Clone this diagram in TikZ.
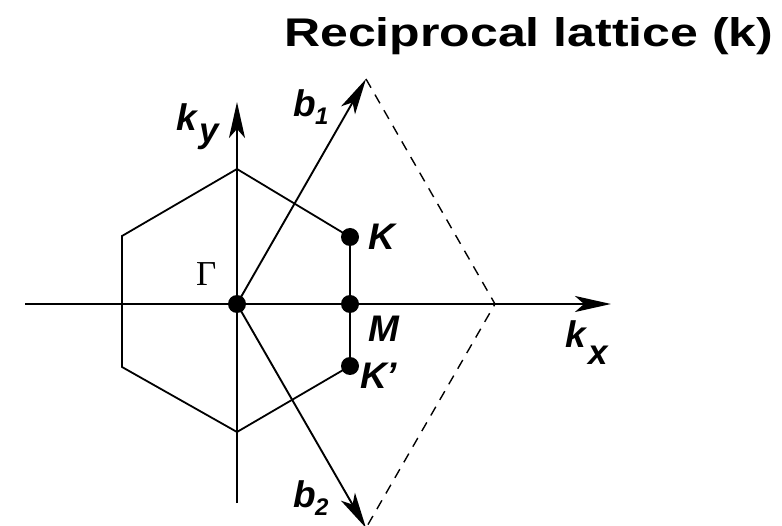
\documentclass[tikz,border=0pt]{standalone}
\usepackage{fontspec}
\setmainfont{Liberation Sans}
\newfontfamily\serifGamma{Liberation Serif}
\usetikzlibrary{arrows.meta}
\tikzset{
  bigarrow/.style={line width=2.3pt,-{Stealth[length=36pt,width=16pt,inset=9pt]}},
  vecarrow/.style={line width=1.9pt,-{Stealth[length=36pt,width=16pt,inset=9pt]}},
  hexline/.style={line width=1.8pt,line join=miter},
  dashline/.style={line width=1.4pt,dash pattern=on 10pt off 8pt},
  dot/.style={circle,fill=black,inner sep=0pt,minimum size=18pt},
  lab/.style={inner sep=0pt,anchor=base west,font=\fontsize{37}{40}\selectfont\bfseries\itshape},
  sublab/.style={inner sep=0pt,anchor=base west,font=\fontsize{35}{40}\selectfont\bfseries\itshape},
  subnum/.style={inner sep=0pt,anchor=base west,font=\fontsize{24}{28}\selectfont\bfseries\itshape},
}
\begin{document}
\begin{tikzpicture}[x=1pt,y=-1pt]
\useasboundingbox (0,0) rectangle (782,526);
% key points
\coordinate (G) at (237,304);
\coordinate (Mp) at (350,304);
\coordinate (Kp) at (350,237);
\coordinate (Kq) at (350,366);
\coordinate (T) at (237,169);
\coordinate (Bt) at (237,432);
\coordinate (UL) at (122,236);
\coordinate (LL) at (122,367);
\coordinate (B1) at (366,79);
\coordinate (B2) at (366,528);
\coordinate (V) at (495,304);
\coordinate (XL) at (25,304);
\coordinate (XR) at (611,304);
\coordinate (YT) at (237,102);
\coordinate (YB) at (237,503);
% hexagon
\draw[hexline] (T) -- (Kp) -- (Kq) -- (Bt) -- (LL) -- (UL) -- cycle;
% axes
\draw[bigarrow] (XL) -- (XR);
\draw[line width=1.9pt] (YB) -- (G);
\draw[bigarrow] (G) -- (YT);
% reciprocal vectors
\draw[vecarrow] (G) -- (B1);
\draw[vecarrow] (G) -- (B2);
% dashed
\draw[dashline] (B1) -- (V) -- (B2);
% dots
\node[dot] (g) at (G) {};
\node[dot] (m) at (Mp) {};
\node[dot] (k) at (Kp) {};
\node[dot] (kq) at (Kq) {};
% labels
\node[inner sep=0pt,anchor=base west,font=\fontsize{40}{44}\selectfont\bfseries] (title) at (284,47) {\scalebox{1.25}[1]{Reciprocal lattice (k)}};
\node[lab] (kyk) at (176,131) {k};
\node[sublab] (kyy) at (199,143) {y};
\node[lab] (b1b) at (293,117) {b};
\node[subnum] (b1n) at (315,125) {1};
\node[lab] (Kl) at (368,250) {K};
\node[inner sep=0pt,anchor=base west,font=\serifGamma\fontsize{35}{40}\selectfont] (Gl) at (196,286) {Γ};
\node[lab] (Ml) at (368,342) {M};
\node[lab] (Kql) at (360,389) {K’};
\node[lab] (kxk) at (565,348) {k};
\node[sublab] (kxx) at (588,365) {x};
\node[lab] (b2b) at (293,507) {b};
\node[subnum] (b2n) at (315,515) {2};
\end{tikzpicture}
\end{document}
